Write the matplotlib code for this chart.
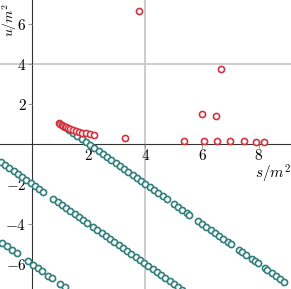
import numpy as np
import matplotlib
matplotlib.use("Agg")
import matplotlib.pyplot as plt

plt.rcParams['mathtext.fontset'] = 'cm'
plt.rcParams['font.family'] = 'serif'

# red points (s, u)
red_s = [0.95, 1.0, 1.05, 1.1, 1.15, 1.2, 1.27, 1.35, 1.45, 1.55, 1.65, 1.77, 1.9, 2.05, 2.2,
         3.29, 3.76, 5.35, 5.98, 6.07, 6.48, 6.52, 6.65, 6.97, 7.46, 7.9, 8.17]
red_u = [1.05, 1.0, 0.95, 0.91, 0.87, 0.83, 0.79, 0.74, 0.69, 0.65, 0.61, 0.56, 0.53, 0.49, 0.45,
         0.32, 6.67, 0.17, 1.5, 0.17, 1.38, 0.15, 3.75, 0.14, 0.13, 0.12, 0.12]

# teal points, three bands
top_s = [1.15, 1.3, 1.45, 1.6, 1.75, 1.9, 2.05, 2.2, 2.35, 2.5, 2.65, 2.8, 2.95, 3.1, 3.25,
         3.4, 3.55, 3.7, 3.85, 4.0, 4.15, 4.3, 4.45, 4.6, 4.75, 5.0, 5.15, 5.3, 5.45, 5.55,
         5.85, 6.0, 6.15, 6.3, 6.45, 6.6, 6.75, 6.9, 7.0, 7.3, 7.4, 7.55, 7.75, 7.85, 7.95,
         8.2, 8.3, 8.45, 8.6, 8.75, 8.9]
top_u = [0.85, 0.7, 0.55, 0.4, 0.25, 0.1, -0.05, -0.2, -0.35, -0.5, -0.65, -0.8, -0.95, -1.1, -1.25,
         -1.4, -1.55, -1.7, -1.85, -2.0, -2.15, -2.3, -2.45, -2.6, -2.75, -3.0, -3.15, -3.3, -3.45, -3.55,
         -3.85, -4.0, -4.15, -4.3, -4.45, -4.6, -4.75, -4.9, -5.0, -5.3, -5.4, -5.55, -5.75, -5.85, -5.95,
         -6.2, -6.3, -6.45, -6.6, -6.75, -6.9]

mid_s = [-1.1, -0.95, -0.8, -0.65, -0.5, -0.35, -0.2, -0.05, 0.1, 0.25, 0.4, 0.75, 0.9, 1.05,
         1.2, 1.35, 1.5, 1.65, 1.8, 1.95, 2.15, 2.3, 2.45, 2.6, 2.75, 2.9, 3.05, 3.2, 3.35, 3.5,
         3.65, 3.8, 3.95, 4.1, 4.25, 4.4, 4.55, 4.7, 4.85, 5.0, 5.15, 5.3]
mid_u = [-0.9, -1.05, -1.2, -1.35, -1.5, -1.65, -1.8, -1.95, -2.1, -2.25, -2.4, -2.75, -2.9, -3.05,
         -3.2, -3.35, -3.5, -3.65, -3.8, -3.95, -4.15, -4.3, -4.45, -4.6, -4.75, -4.9, -5.05, -5.2, -5.35, -5.5,
         -5.65, -5.8, -5.95, -6.1, -6.25, -6.4, -6.55, -6.7, -6.85, -7.0, -7.15, -7.3]

bot_s = [-1.05, -0.9, -0.72, -0.54, -0.13, 0.04, 0.22, 0.34, 0.58, 0.7, 0.99, 1.15]
bot_u = [-4.95, -5.1, -5.28, -5.46, -5.87, -6.04, -6.22, -6.34, -6.58, -6.7, -6.99, -7.15]

x_ticks = [2, 4, 6, 8]
y_ticks = [-6, -4, -2, 2, 4, 6]

teal = '#2f7f7b'
red = '#d1343f'

fig = plt.figure(figsize=(2.91, 2.89), dpi=100)
ax = fig.add_axes([0, 0, 1, 1])
ax.set_xlim(-1.13, 9.13)
ax.set_ylim(-7.25, 7.2)

ax.axvline(4, color='#c8c8c8', lw=1.3, zorder=0)
ax.axhline(4, color='#c8c8c8', lw=1.3, zorder=0)

kw = dict(ls='none', marker='o', ms=4.4, mfc='white', mew=1.2)
for s, u in [(top_s, top_u), (mid_s, mid_u), (bot_s, bot_u)]:
    ax.plot(s, u, mec=teal, zorder=3, **kw)
ax.plot(red_s, red_u, mec=red, zorder=4, **kw)

for side in ['top', 'right']:
    ax.spines[side].set_visible(False)
ax.spines['left'].set_position(('data', 0))
ax.spines['bottom'].set_position(('data', 0))
ax.spines['left'].set_color('#333333')
ax.spines['bottom'].set_color('#333333')
ax.spines['left'].set_zorder(1)
ax.spines['bottom'].set_zorder(1)

ax.set_xticks(x_ticks)
ax.set_yticks(y_ticks)
ax.set_xticklabels(['$%d$' % t for t in x_ticks])
ax.set_yticklabels(['$%d$' % t for t in y_ticks])
ax.tick_params(axis='x', direction='out', length=3, color='#999999', labelsize=11, pad=0)
ax.tick_params(axis='y', direction='out', length=3, color='#999999', labelsize=11, pad=1)

ax.text(8.5, -0.95, '$s/m^2$', fontsize=11, ha='center', va='top')
ax.text(-0.8, 7.05, '$u/m^2$', fontsize=10, ha='center', va='top', rotation=90)

fig.savefig('out.png', dpi=100)
